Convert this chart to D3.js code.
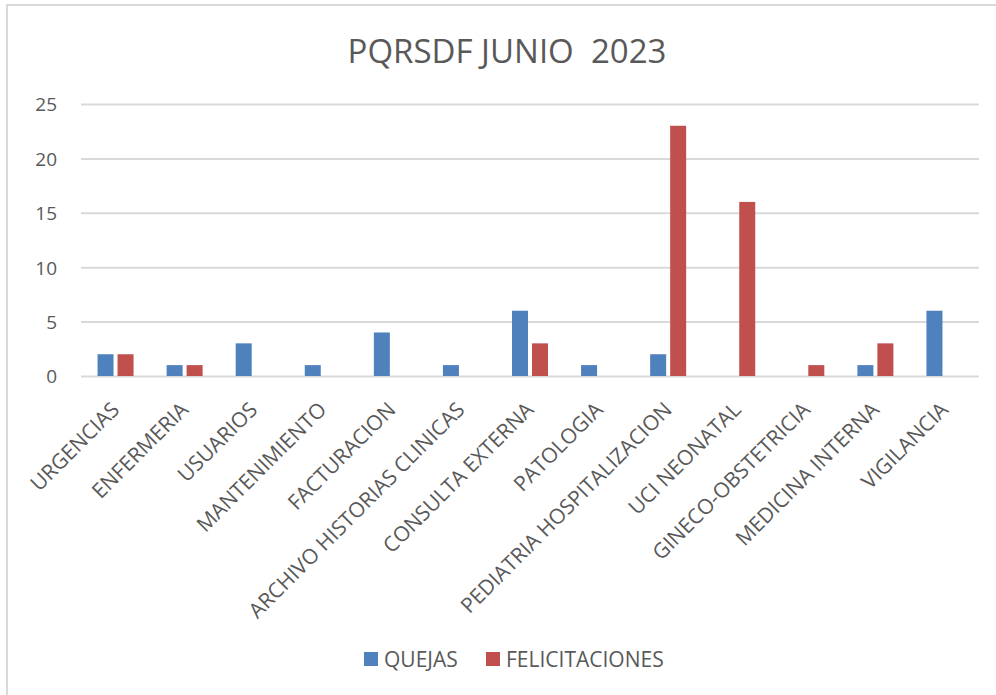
<!DOCTYPE html>
<html>
<head>
<meta charset="utf-8">
<script src="https://cdn.jsdelivr.net/npm/d3@7"></script>
<style>
  body { margin: 0; background: #fff; }
  svg text { font-family: "Open Sans", "Noto Sans", sans-serif; fill: #595959; }
</style>
</head>
<body>
<svg id="chart" width="996" height="695"></svg>
<script>
let categories = ["URGENCIAS", "ENFERMERIA", "USUARIOS", "MANTENIMIENTO", "FACTURACION",
  "ARCHIVO HISTORIAS CLINICAS", "CONSULTA EXTERNA", "PATOLOGIA", "PEDIATRIA HOSPITALIZACION",
  "UCI NEONATAL", "GINECO-OBSTETRICIA", "MEDICINA INTERNA", "VIGILANCIA"];
let seriesNames = ["QUEJAS", "FELICITACIONES"];
let quejas =         [2, 1, 3, 1, 4, 1, 6, 1, 2, 0, 0, 1, 6];
let felicitaciones = [2, 1, 0, 0, 0, 0, 3, 0, 23, 16, 1, 3, 0];
let yTicks = [0, 5, 10, 15, 20, 25];
let colors = ["#4F81BD", "#C0504D"];

let svg = d3.select("#chart");

// border of the chart area (cropped at right/bottom)
svg.append("rect")
  .attr("x", 7).attr("y", 5)
  .attr("width", 1000).attr("height", 700)
  .attr("fill", "none")
  .attr("stroke", "#d9d9d9")
  .attr("stroke-width", 2);

svg.append("text")
  .attr("x", 507).attr("y", 63)
  .attr("text-anchor", "middle")
  .style("font-size", "33px")
  .style("white-space", "pre")
  .text("PQRSDF JUNIO  2023");

let x = d3.scaleBand().domain(categories).range([81, 979]);
let xSub = d3.scaleBand().domain(seriesNames)
  .range([x.bandwidth() / 2 - 18, x.bandwidth() / 2 + 18])
  .paddingInner(0.2);
let y = d3.scaleLinear().domain([0, 25]).range([376, 104]);

let yAxis = d3.axisLeft(y)
  .tickValues(yTicks)
  .tickSize(-(979 - 81))
  .tickPadding(24);

let gy = svg.append("g")
  .attr("transform", "translate(81,0)")
  .call(yAxis);
gy.select(".domain").remove();
gy.selectAll(".tick line").attr("stroke", "#d9d9d9").attr("stroke-width", 2);
gy.selectAll(".tick text").style("font-size", "19px").attr("dy", "0.36em");

let rows = categories.map((c, i) => ({ cat: c, values: [quejas[i], felicitaciones[i]] }));

svg.append("g").selectAll("g")
  .data(rows)
  .enter().append("g")
  .attr("transform", d => "translate(" + x(d.cat) + ",0)")
  .selectAll("rect")
  .data(d => d.values.map((v, j) => ({ name: seriesNames[j], value: v, j: j })))
  .enter().append("rect")
  .filter(d => d.value > 0)
  .attr("x", d => xSub(d.name))
  .attr("width", xSub.bandwidth())
  .attr("y", d => y(d.value))
  .attr("height", d => y(0) - y(d.value))
  .attr("fill", d => colors[d.j]);

let xAxis = d3.axisBottom(x).tickSize(0);
let gx = svg.append("g")
  .attr("transform", "translate(0,376)")
  .call(xAxis);
gx.select(".domain").remove();
gx.selectAll(".tick text")
  .attr("x", 0).attr("y", 0).attr("dy", 0)
  .attr("text-anchor", "end")
  .attr("transform", "translate(5,35) rotate(-45)")
  .style("font-size", "21px");

// legend
let legend = svg.append("g");
let legendX = [364, 486];
seriesNames.forEach((name, i) => {
  legend.append("rect")
    .attr("x", legendX[i]).attr("y", 652)
    .attr("width", 14).attr("height", 14)
    .attr("fill", colors[i]);
  legend.append("text")
    .attr("x", legendX[i] + 20).attr("y", 667)
    .style("font-size", "21px")
    .text(name);
});
</script>
</body>
</html>
